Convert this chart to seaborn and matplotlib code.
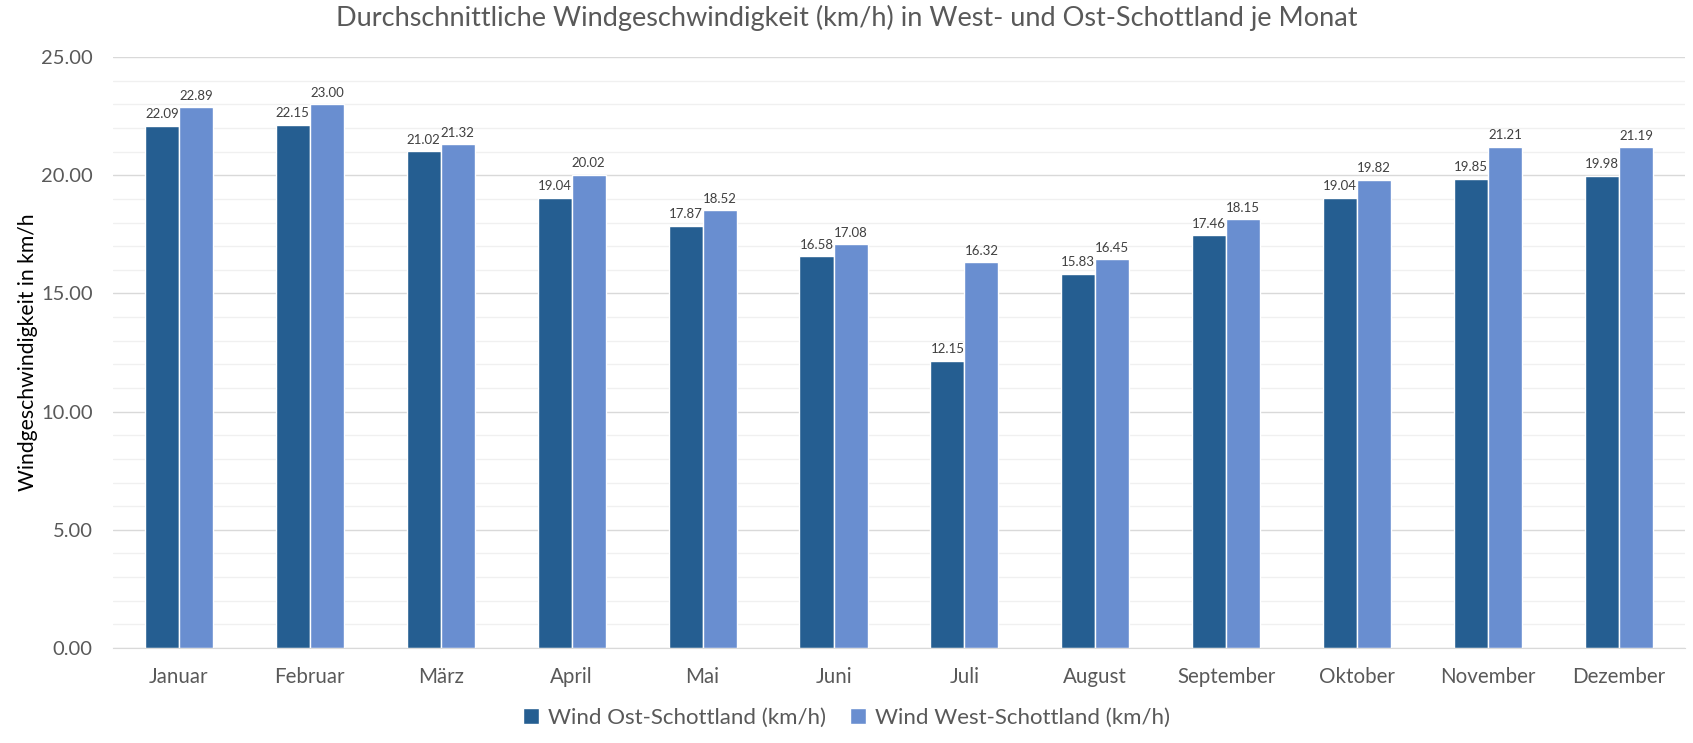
import matplotlib
matplotlib.use("Agg")
import matplotlib.pyplot as plt
from matplotlib.ticker import MultipleLocator, FormatStrFormatter
import pandas as pd
import seaborn as sns

months = ["Januar", "Februar", "März", "April", "Mai", "Juni", "Juli",
          "August", "September", "Oktober", "November", "Dezember"]
wind_ost = [22.09, 22.15, 21.02, 19.04, 17.87, 16.58, 12.15,
            15.83, 17.46, 19.04, 19.85, 19.98]
wind_west = [22.89, 23.00, 21.32, 20.02, 18.52, 17.08, 16.32,
             16.45, 18.15, 19.82, 21.21, 21.19]
series = ["Wind Ost-Schottland (km/h)", "Wind West-Schottland (km/h)"]

df = pd.DataFrame({
    "Monat": months * 2,
    "Wert": wind_ost + wind_west,
    "Serie": [series[0]] * len(months) + [series[1]] * len(months),
})

sns.set_style("white")
plt.rcParams["font.family"] = ["Lato", "DejaVu Sans"]
text_col = "#595959"

fig = plt.figure(figsize=(16.93, 7.43), dpi=100)
ax = fig.add_axes([0.067, 0.128, 0.928, 0.795])

sns.barplot(data=df, x="Monat", y="Wert", hue="Serie", order=months,
            hue_order=series, palette=["#255E91", "#698ED0"], width=0.52,
            saturation=1, ax=ax, legend=True)

for cont in ax.containers:
    ax.bar_label(cont, fmt="%.2f", padding=4, fontsize=9.5, color="#404040")

ax.set_ylim(0, 25)
ax.set_xlim(-0.5, 11.5)
ax.yaxis.set_major_locator(MultipleLocator(5))
ax.yaxis.set_minor_locator(MultipleLocator(1))
ax.yaxis.set_major_formatter(FormatStrFormatter("%.2f"))
ax.grid(axis="y", which="major", color="#D9D9D9", linewidth=1)
ax.grid(axis="y", which="minor", color="#F0F0F0", linewidth=1)
ax.set_axisbelow(True)
for s in ["top", "right", "left"]:
    ax.spines[s].set_visible(False)
ax.spines["bottom"].set_color("#D9D9D9")
ax.tick_params(axis="both", which="both", length=0, labelcolor=text_col)
ax.tick_params(axis="y", labelsize=14.5, pad=15)
ax.tick_params(axis="x", labelsize=14.8, pad=14)
ax.set_xlabel("")
ax.set_ylabel("Windgeschwindigkeit in km/h", fontsize=15.2, color="black")
ax.yaxis.set_label_coords(-0.048, 0.5)

fig.suptitle("Durchschnittliche Windgeschwindigkeit (km/h) in West- und Ost-Schottland je Monat",
             fontsize=19.5, color=text_col, y=0.993)

handles, labels = ax.get_legend_handles_labels()
ax.legend_.remove()
fig.legend(handles, labels, loc="center", bbox_to_anchor=(0.5, 0.034), ncol=2,
           frameon=False, fontsize=16, handlelength=0.7, handleheight=0.7,
           handletextpad=0.4, columnspacing=1.1, labelcolor=text_col)

fig.savefig("out.png", dpi=100)
